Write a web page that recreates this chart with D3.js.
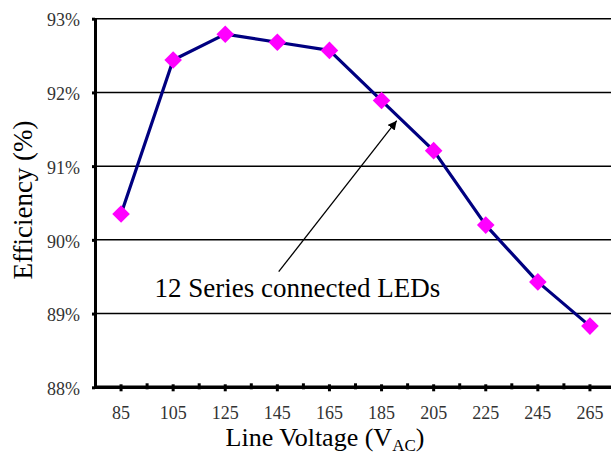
<!DOCTYPE html>
<html>
<head>
<meta charset="utf-8">
<script src="https://cdn.jsdelivr.net/npm/d3@7"></script>
<style>
  body { margin: 0; background: #fff; }
  text { font-family: "Liberation Serif", "DejaVu Serif", serif; }
</style>
</head>
<body>
<svg width="611" height="459"></svg>
<script>
// line voltage categories (VAC) and measured efficiency (%)
const voltages = ["85", "105", "125", "145", "165", "185", "205", "225", "245", "265"];
const efficiency = [90.35, 92.44, 92.79, 92.68, 92.57, 91.89, 91.21, 90.20, 89.43, 88.83];
const yTicks = [88, 89, 90, 91, 92, 93];
const gridTicks = [89, 90, 91, 92, 93];
const noteText = "12 Series connected LEDs";

const svg = d3.select("svg");
const margin = { top: 18.7, left: 95 };
const plotH = 368.6;
const plotW = 521;

const g = svg.append("g")
  .attr("transform", "translate(" + margin.left + "," + margin.top + ")");

const x = d3.scaleBand().domain(voltages).range([0, plotW]).padding(0);
const y = d3.scaleLinear().domain([88, 93]).range([plotH, 0]);
const cx = function(v) { return x(v) + x.bandwidth() / 2; };

// horizontal grid lines
g.selectAll(".grid")
  .data(gridTicks)
  .join("line")
  .attr("class", "grid")
  .attr("x1", 0)
  .attr("x2", plotW)
  .attr("y1", function(d) { return y(d); })
  .attr("y2", function(d) { return y(d); })
  .attr("stroke", "#000")
  .attr("stroke-width", 1.5);

// y axis
const yAxis = g.append("g")
  .call(d3.axisLeft(y).tickValues(yTicks).tickSize(3).tickPadding(12)
    .tickFormat(function(d) { return d + "%"; }));
yAxis.select(".domain").attr("stroke", "#000").attr("stroke-width", 3).attr("d", "M0.5," + plotH + "V0");
yAxis.selectAll(".tick line").attr("stroke-width", 3);
yAxis.selectAll(".tick text")
  .attr("font-size", 18)
  .attr("fill", "#333")
  .attr("dy", "0.4em");

// x axis: ticks at category centres and boundaries
const xAxis = g.append("g")
  .attr("transform", "translate(0," + plotH + ")")
  .call(d3.axisBottom(x).tickSize(4).tickPadding(15));
xAxis.select(".domain").attr("stroke", "#000").attr("stroke-width", 3.5).attr("d", "M0,0H" + plotW);
xAxis.selectAll(".tick line").attr("stroke-width", 3).attr("y1", -3);
xAxis.selectAll(".tick text")
  .attr("font-size", 18)
  .attr("fill", "#333");
xAxis.selectAll(".minor")
  .data(voltages.slice(1))
  .join("line")
  .attr("class", "minor")
  .attr("x1", function(d) { return x(d); })
  .attr("x2", function(d) { return x(d); })
  .attr("y1", -4)
  .attr("y2", 2)
  .attr("stroke", "#000")
  .attr("stroke-width", 3);

// efficiency line
const line = d3.line()
  .x(function(d, i) { return cx(voltages[i]); })
  .y(function(d) { return y(d); });

g.append("path")
  .datum(efficiency)
  .attr("d", line)
  .attr("fill", "none")
  .attr("stroke", "#000080")
  .attr("stroke-width", 3.2)
  .attr("stroke-linejoin", "round");

// diamond markers
const diamond = d3.symbol().type(d3.symbolSquare).size(155);
g.selectAll(".pt")
  .data(efficiency)
  .join("path")
  .attr("class", "pt")
  .attr("d", diamond)
  .attr("transform", function(d, i) {
    return "translate(" + cx(voltages[i]) + "," + y(d) + ") rotate(45)";
  })
  .attr("fill", "#ff00ff");

// annotation with arrow
svg.append("defs").append("marker")
  .attr("id", "arrow")
  .attr("viewBox", "0 0 10 10")
  .attr("refX", 10)
  .attr("refY", 5)
  .attr("markerWidth", 9)
  .attr("markerHeight", 9)
  .attr("markerUnits", "userSpaceOnUse")
  .attr("orient", "auto")
  .append("path")
  .attr("d", "M0,0L10,5L0,10Z")
  .attr("fill", "#000");

svg.append("line")
  .attr("x1", 278.7)
  .attr("y1", 271.7)
  .attr("x2", 396.7)
  .attr("y2", 120.7)
  .attr("stroke", "#000")
  .attr("stroke-width", 1.3)
  .attr("marker-end", "url(#arrow)");

svg.append("text")
  .attr("x", 154.5)
  .attr("y", 296.5)
  .attr("font-size", 27)
  .text(noteText);

// axis titles
svg.append("text")
  .attr("transform", "translate(32,200) rotate(-90)")
  .attr("text-anchor", "middle")
  .attr("font-size", 27)
  .text("Efficiency (%)");

const xt = svg.append("text")
  .attr("x", 325)
  .attr("y", 446)
  .attr("text-anchor", "middle")
  .attr("font-size", 26);
xt.append("tspan").text("Line Voltage (V");
xt.append("tspan").attr("font-size", 17).attr("dy", 5).text("AC");
xt.append("tspan").attr("dy", -5).text(")");
</script>
</body>
</html>
